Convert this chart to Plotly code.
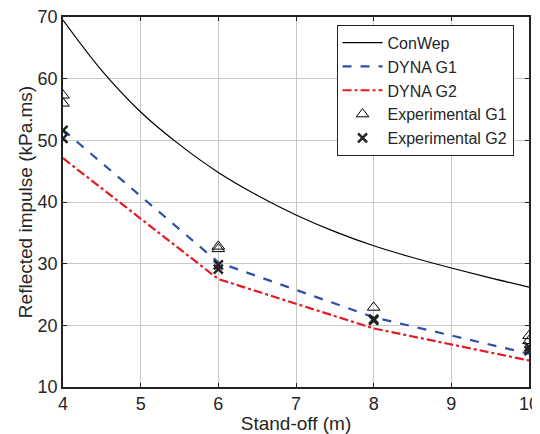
import plotly.graph_objects as go

# Data
conwep_x = [4, 4.5, 5, 5.5, 6, 6.5, 7, 7.5, 8, 8.5, 9, 9.5, 10]
conwep_y = [69.5, 61.3, 54.6, 49.3, 44.8, 41.1, 37.9, 35.2, 32.9, 31.0, 29.3, 27.7, 26.2]

dyna_x = [4, 6, 8, 10]
dyna_g1 = [51.7, 30.2, 21.3, 15.4]
dyna_g2 = [47.1, 27.5, 19.5, 14.3]

exp_g1_x = [4, 4, 6, 6, 8, 10, 10]
exp_g1_y = [57.3, 56.0, 32.8, 32.4, 22.9, 18.3, 17.5]

exp_g2_x = [4, 4, 6, 6, 8, 8, 10, 10]
exp_g2_y = [51.6, 50.3, 29.8, 29.1, 21.0, 20.8, 16.5, 15.9]

x_ticks = [4, 5, 6, 7, 8, 9, 10]
y_ticks = [10, 20, 30, 40, 50, 60, 70]

fig = go.Figure()
fig.add_trace(go.Scatter(x=conwep_x, y=conwep_y, mode="lines", name="ConWep",
                         line=dict(color="black", width=1.2, shape="spline")))
fig.add_trace(go.Scatter(x=dyna_x, y=dyna_g1, mode="lines", name="DYNA G1",
                         line=dict(color="#2f4fa8", width=2.2, dash="dash")))
fig.add_trace(go.Scatter(x=dyna_x, y=dyna_g2, mode="lines", name="DYNA G2",
                         line=dict(color="#e31a22", width=2.2, dash="dashdot")))
fig.add_trace(go.Scatter(x=exp_g1_x, y=exp_g1_y, mode="markers", name="Experimental G1",
                         marker=dict(symbol="triangle-up-open", size=11, color="black",
                                     line=dict(width=1))))
fig.add_trace(go.Scatter(x=exp_g2_x, y=exp_g2_y, mode="markers", name="Experimental G2",
                         marker=dict(symbol="x-thin", size=9, color="#222222",
                                     line=dict(width=2.5, color="#222222"))))

axis_common = dict(showline=True, linecolor="#222222", linewidth=1.5, mirror="ticks",
                   ticks="inside", ticklen=4, tickcolor="#222222",
                   showgrid=True, gridcolor="#c8c8c8", gridwidth=1, zeroline=False,
                   automargin=False, ticklabeloverflow="allow",
                   tickfont=dict(size=18, color="#262626"))

# The page body adds an 8px offset, so the figure is sized 532x426.
fig.update_layout(
    width=532, height=426,
    margin=dict(l=55, r=11, t=9, b=47),
    paper_bgcolor="white", plot_bgcolor="white",
    font=dict(family="Liberation Sans, Arial, sans-serif", color="#262626"),
    xaxis=dict(range=[4, 10], tickvals=x_ticks,
               title=dict(text="Stand-off (m)", font=dict(size=19), standoff=0),
               **axis_common),
    yaxis=dict(range=[10, 70], tickvals=y_ticks,
               title=dict(text="Reflected impulse (kPa.ms)", font=dict(size=19), standoff=0),
               **axis_common),
    legend=dict(x=0.587, y=0.979, xanchor="left", yanchor="top",
                bgcolor="white", bordercolor="#222222", borderwidth=1,
                font=dict(size=16, color="#262626"), itemwidth=40),
    showlegend=True,
)

fig.write_html("out.html")
